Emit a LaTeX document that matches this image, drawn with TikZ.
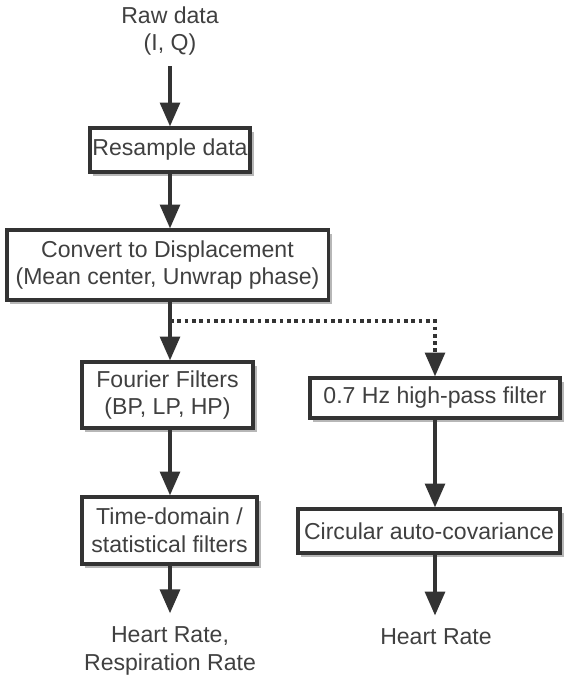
\documentclass[tikz,border=0pt]{standalone}
\usepackage{fontspec}
\setmainfont{Liberation Sans}
\usetikzlibrary{arrows.meta}
\usetikzlibrary{shadows}
\definecolor{ink}{HTML}{333333}
\definecolor{txt}{HTML}{404040}

\begin{document}
\begin{tikzpicture}[x=0.025cm,y=-0.025cm,
  every node/.style={text=txt,font=\fontsize{16.4}{19.8}\selectfont,align=center},
  box/.style={draw=ink,line width=2.2pt,fill=white,inner sep=0pt,
    drop shadow={shadow xshift=2.5pt,shadow yshift=-2.5pt,opacity=0.4,fill=black!70}},
  flow/.style={draw=ink,line width=2.8pt,-{Triangle[width=14pt,length=17pt]}},
  hint/.style={draw=ink,line width=2.8pt,dash pattern=on 2.6pt off 2.6pt,-{Triangle[width=14pt,length=17pt]}}]
\useasboundingbox (0,0) rectangle (574,675);
\node (raw) at (170,31) {Raw data\\(I, Q)};
\node[box,minimum width=4cm,minimum height=1.1cm] (resample) at (170,150) {Resample data};
\node[box,minimum width=8.025cm,minimum height=1.75cm] (convert) at (167.5,265) {Convert to Displacement\\(Mean center, Unwrap phase)};
\node[box,minimum width=4.275cm,minimum height=1.65cm] (fourier) at (167.5,395) {Fourier Filters\\(BP, LP, HP)};
\node[box,minimum width=4.375cm,minimum height=1.675cm] (timedom) at (169.5,530.5) {Time-domain /\\statistical filters};
\node[box,minimum width=6.25cm,minimum height=1cm] (hipass) at (435,398) {0.7 Hz high-pass filter};
\node[box,minimum width=6.55cm,minimum height=1.1cm] (circ) at (429,531) {Circular auto-covariance};
\node (rates) at (170,651) {Heart Rate,\\Respiration Rate};
\node (heart) at (436,637) {Heart Rate};
\coordinate (split) at (170,321);
% links
\draw[flow] ([yshift=-4pt]raw.south) -- (resample.north -| raw.south);
\draw[flow] (resample.south) -- (resample.south |- convert.north);
\draw[flow] (convert.south -| resample.south) -- (resample.south |- fourier.north);
\draw[hint] (split) -| (hipass.north);
\draw[flow] (fourier.south -| resample.south) -- (resample.south |- timedom.north);
\draw[flow] (timedom.south -| resample.south) -- ([yshift=6pt]rates.north -| resample.south);
\draw[flow] (hipass.south) -- (hipass.south |- circ.north);
\draw[flow] (circ.south -| hipass.south) -- ([yshift=6pt]heart.north -| hipass.south);
\end{tikzpicture}
\end{document}
